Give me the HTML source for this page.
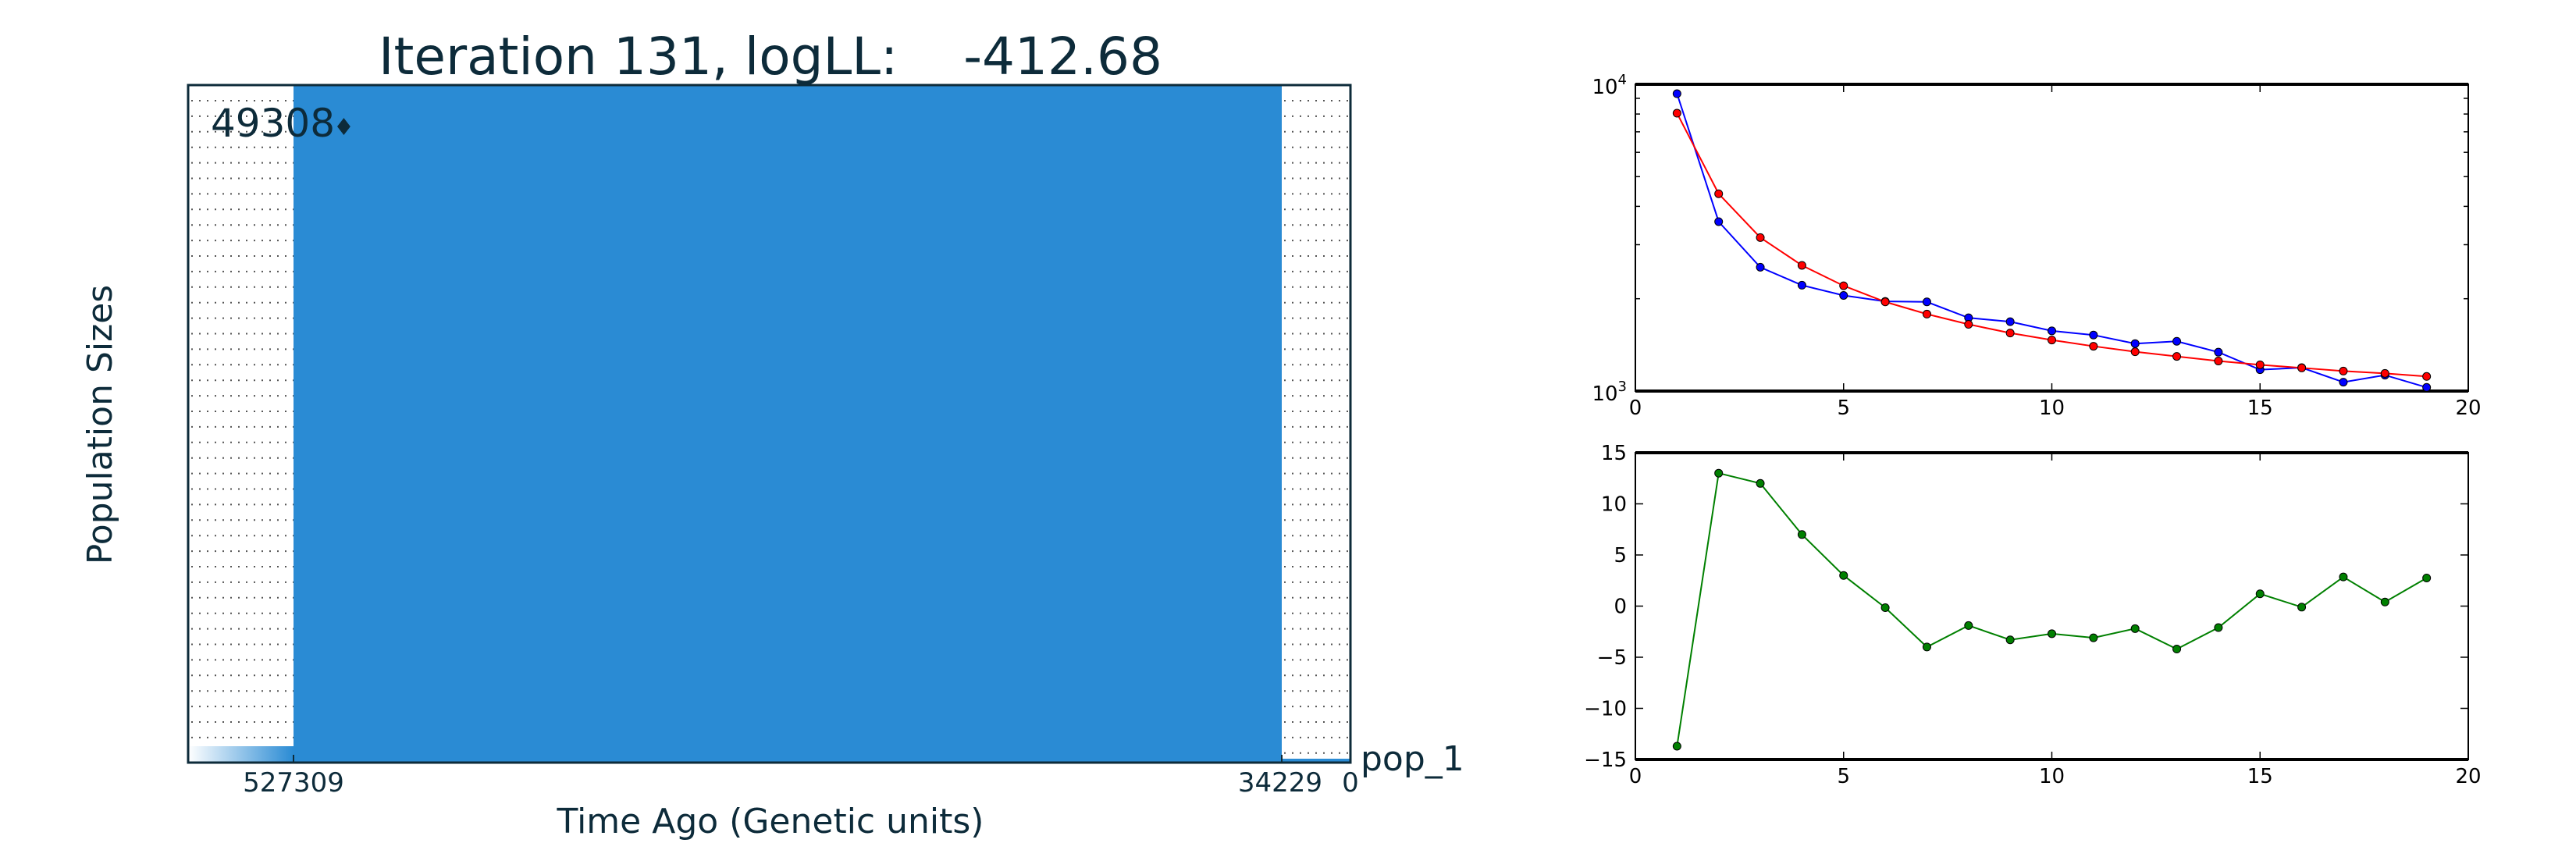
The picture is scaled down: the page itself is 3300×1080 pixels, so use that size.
<!DOCTYPE html>
<html><head><meta charset="utf-8"><style>
html,body{margin:0;padding:0;background:#fff;}
svg{display:block;font-family:"DejaVu Sans","Liberation Sans",sans-serif;}
</style></head><body>
<svg id="fig" width="3300" height="1080" viewBox="0 0 3300 1080" xmlns="http://www.w3.org/2000/svg">
<rect width="3300" height="1080" fill="#fff"/>
<text x="987" y="95" font-size="66" text-anchor="middle" fill="#0d2b3a" style="white-space:pre" xml:space="preserve">Iteration 131, logLL:    -412.68</text>
<g id="left">
  <g id="dots"></g>
  <rect x="376" y="109" width="1266" height="868" fill="#2a8bd4"/>
  <defs><linearGradient id="gr" x1="0" x2="1"><stop offset="0" stop-color="#fff"/><stop offset="1" stop-color="#2a8bd4"/></linearGradient></defs>
  <rect x="241" y="956" width="135" height="21" fill="url(#gr)"/>
  <rect x="1642" y="972" width="88" height="5" fill="#2a8bd4"/>
  <rect x="241" y="109" width="1489" height="868" fill="none" stroke="#0d2b3a" stroke-width="3"/>
  <text x="270" y="175" font-size="50" fill="#0d2b3a">49308</text>
  <text x="427" y="173" font-size="30" fill="#0d2b3a">♦</text>
  <line x1="376" y1="977" x2="376" y2="967" stroke="#0d2b3a" stroke-width="2"/>
  <line x1="1642" y1="977" x2="1642" y2="967" stroke="#0d2b3a" stroke-width="2"/>
  <text x="376" y="1014" font-size="34" text-anchor="middle" fill="#0d2b3a">527309</text>
  <text x="1640" y="1014" font-size="34" text-anchor="middle" fill="#0d2b3a">34229</text>
  <text x="1730" y="1014" font-size="34" text-anchor="middle" fill="#0d2b3a">0</text>
  <text x="1743" y="987" font-size="44" fill="#0d2b3a">pop_1</text>
  <text x="987" y="1067" font-size="44" text-anchor="middle" fill="#0d2b3a">Time Ago (Genetic units)</text>
  <text transform="translate(143,544) rotate(-90)" font-size="44" text-anchor="middle" fill="#0d2b3a">Population Sizes</text>
</g>
<g id="top"></g>
<g id="bot"></g>
</svg>
<script>
const xs = [1,2,3,4,5,6,7,8,9,10,11,12,13,14,15,16,17,18,19];
const blueVals = [9320,3566,2533,2213,2050,1960,1953,1733,1683,1571,1523,1428,1453,1339,1174,1192,1069,1127,1028];
const redVals = [8050,4397,3165,2569,2204,1953,1782,1650,1546,1467,1400,1343,1297,1253,1218,1190,1162,1142,1116];
const greenVals = [-13.7,13.0,12.0,7.0,3.0,-0.15,-4.0,-1.9,-3.3,-2.7,-3.1,-2.2,-4.2,-2.1,1.2,-0.1,2.85,0.4,2.75];
const xTicks = [0,5,10,15,20];
const yTicksBot = [-15,-10,-5,0,5,10,15];
const NS='http://www.w3.org/2000/svg';
function mk(p,t,a){const e=document.createElementNS(NS,t);for(const k in a)e.setAttribute(k,a[k]);p.appendChild(e);return e;}
const dots=document.getElementById('dots');
for(let y=129;y<977;y+=19.9){
  const l1=mk(dots,'line',{x1:245,x2:376,y1:y,y2:y,stroke:'#555','stroke-width':2,'stroke-dasharray':'2 8'});
  
  
  const l2=mk(dots,'line',{x1:1645,x2:1728,y1:y,y2:y,stroke:'#555','stroke-width':2,'stroke-dasharray':'2 8'});
  
  
}
const L=2095,R=3162;
const xS=v=>L+(v-0)/20*(R-L);
function axes(g,T,B){
  const fr=mk(g,'rect',{x:L,y:T,width:R-L,height:B-T,fill:'none',stroke:'#000','stroke-width':2});
  
  
  mk(g,'line',{x1:L,x2:R,y1:T,y2:T,stroke:'#000','stroke-width':4});
  mk(g,'line',{x1:L,x2:R,y1:B,y2:B,stroke:'#000','stroke-width':4});
  xTicks.forEach(t=>{const x=xS(t);
    mk(g,'line',{x1:x,x2:x,y1:B,y2:B-10,stroke:'#000','stroke-width':1.5});
    mk(g,'line',{x1:x,x2:x,y1:T,y2:T+10,stroke:'#000','stroke-width':1.5});
    const tx=mk(g,'text',{x:x,y:B+30,'font-size':26,'text-anchor':'middle'});tx.textContent=t;
    
    
  });
}
function series(g,vals,yS,col,name){
  const pts=xs.map((x,i)=>xS(x)+','+yS(vals[i])).join(' ');
  const pl=mk(g,'polyline',{points:pts,fill:'none',stroke:col,'stroke-width':2});
  
  
  xs.forEach((x,i)=>{const c=mk(g,'ellipse',{cx:xS(x),cy:yS(vals[i]),rx:5,ry:5,fill:col,stroke:'#000','stroke-width':1});
    
    });
}
const gt=document.getElementById('top');const T1=108,B1=501;
const yLog=v=>B1-(Math.log10(v)-3)*(B1-T1);
axes(gt,T1,B1);
for(let m=2;m<=9;m++){const y=yLog(m*1000);
  mk(gt,'line',{x1:L,x2:L+6,y1:y,y2:y,stroke:'#000','stroke-width':1.5});
  mk(gt,'line',{x1:R,x2:R-6,y1:y,y2:y,stroke:'#000','stroke-width':1.5});}
[[3,B1],[4,T1]].forEach(([p,y])=>{const t=mk(gt,'text',{x:2084,y:y+12,'font-size':26,'text-anchor':'end'});
  t.innerHTML='10<tspan font-size="18" dy="-12">'+p+'</tspan>';
  
  });
series(gt,blueVals,yLog,'#0000ff','blue-series');
series(gt,redVals,yLog,'#ff0000','red-series');
const gb=document.getElementById('bot');const T2=580,B2=973;
const yLin=v=>B2-(v+15)/30*(B2-T2);
axes(gb,T2,B2);
yTicksBot.forEach(t=>{const y=yLin(t);
  mk(gb,'line',{x1:L,x2:L+10,y1:y,y2:y,stroke:'#000','stroke-width':1.5});
  mk(gb,'line',{x1:R,x2:R-10,y1:y,y2:y,stroke:'#000','stroke-width':1.5});
  const tx=mk(gb,'text',{x:2084,y:y+9,'font-size':26,'text-anchor':'end'});tx.textContent=t<0?'\u2212'+(-t):t;
  
  });
series(gb,greenVals,yLin,'#008000','green-series');
</script>
</body></html>
